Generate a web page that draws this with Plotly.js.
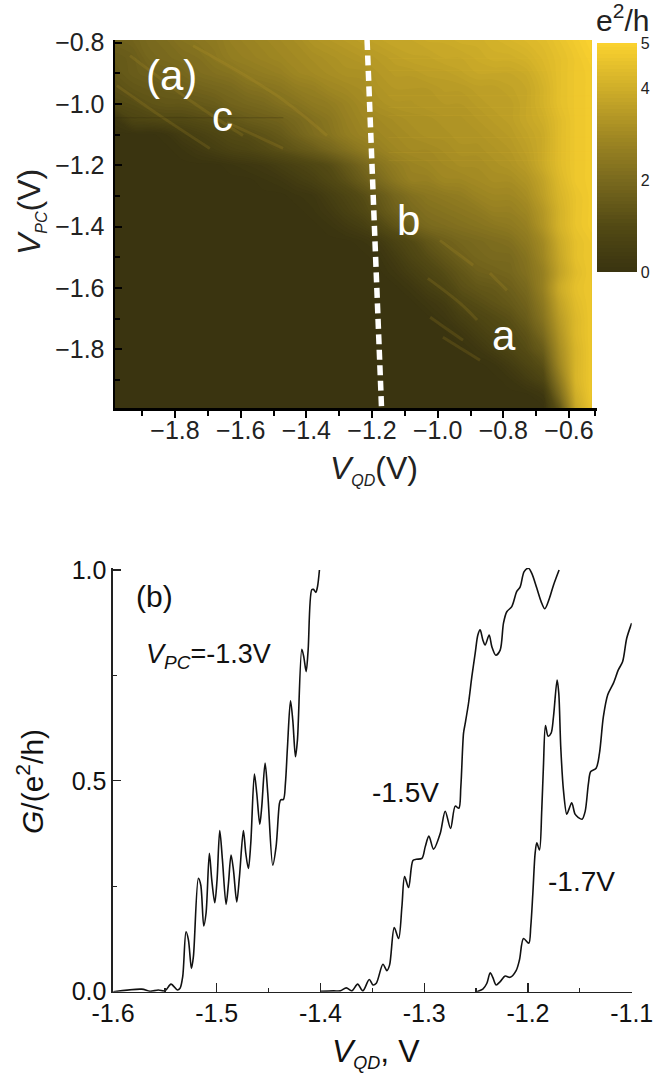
<!DOCTYPE html>
<html><head><meta charset="utf-8">
<script src="https://cdn.plot.ly/plotly-3.0.1.min.js"></script>
<style>html,body{margin:0;padding:0;background:#fff}#chart{width:668px;height:1077px}</style>
</head><body><div id="chart"></div>
<script>
// ---------- panel (a) map: conductance in e^2/h ----------
const vqdGrid = [-1.983,-1.93,-1.88,-1.83,-1.78,-1.73,-1.68,-1.63,-1.58,-1.53,-1.48,-1.43,-1.38,-1.33,-1.28,-1.23,-1.18,-1.13,-1.08,-1.03,-0.98,-0.93,-0.88,-0.83,-0.78,-0.73,-0.68,-0.63,-0.58,-0.531];
const vpcGrid = [-0.7912,-0.85,-0.90,-0.95,-1.00,-1.05,-1.10,-1.15,-1.20,-1.25,-1.30,-1.35,-1.40,-1.45,-1.50,-1.55,-1.60,-1.65,-1.70,-1.75,-1.80,-1.85,-1.90,-1.95,-1.992];
const row080 = [1.7,1.8,2.0,2.1,2.3,2.4,2.5,2.7,2.8,2.9,3.0,3.1,3.3,3.4,3.5,3.6,3.7,3.8,3.8,3.9,3.9,4.0,4.0,4.1,4.2,4.3,4.4,4.6,4.8,5.0];
const row085 = [1.5,1.6,1.9,2.0,2.1,2.2,2.4,2.6,2.7,2.8,2.9,3.0,3.1,3.2,3.3,3.4,3.5,3.6,3.7,3.7,3.8,3.8,3.9,4.0,4.0,4.1,4.3,4.5,4.7,4.9];
const row090 = [1.4,1.6,1.7,1.8,1.9,2.1,2.2,2.3,2.5,2.6,2.7,2.9,3.0,3.1,3.2,3.2,3.4,3.5,3.5,3.6,3.6,3.7,3.8,3.8,3.8,3.9,4.2,4.5,4.7,4.8];
const row095 = [1.2,1.4,1.5,1.6,1.7,1.8,1.9,2.0,2.2,2.3,2.4,2.6,2.7,2.9,3.0,3.1,3.3,3.4,3.4,3.4,3.5,3.5,3.6,3.6,3.7,3.8,4.1,4.5,4.7,4.8];
const row100 = [1.0,1.1,1.3,1.4,1.4,1.5,1.6,1.8,1.9,2.0,2.2,2.3,2.5,2.6,2.8,3.0,3.2,3.3,3.3,3.4,3.4,3.4,3.5,3.6,3.6,3.8,4.1,4.5,4.7,4.8];
const row105 = [0.2,0.8,0.9,1.0,1.0,1.1,1.2,1.4,1.6,1.7,1.8,2.0,2.2,2.4,2.7,2.9,3.0,3.1,3.2,3.2,3.3,3.3,3.4,3.5,3.6,3.8,4.0,4.4,4.7,4.8];
const row110 = [0,0,0,0.1,0.4,0.6,0.8,1.0,1.1,1.3,1.5,1.8,2.1,2.3,2.6,2.8,2.9,3.0,3.1,3.2,3.2,3.3,3.3,3.4,3.5,3.7,3.9,4.4,4.7,4.8];
const row115 = [0,0,0,0,0.1,0.3,0.5,0.7,0.8,1.0,1.2,1.4,1.6,1.9,2.2,2.5,2.7,2.9,3.0,3.0,3.1,3.2,3.2,3.3,3.4,3.6,3.9,4.4,4.7,4.8];
const row120 = [0,0,0,0,0,0,0,0.1,0.2,0.3,0.5,0.7,0.9,1.1,1.5,1.9,2.3,2.6,2.8,2.9,3.0,3.1,3.1,3.2,3.3,3.5,3.9,4.4,4.7,4.8];
const row125 = [0,0,0,0,0,0,0,0,0,0.1,0.2,0.4,0.6,0.9,1.2,1.6,2.0,2.4,2.7,2.7,2.9,2.9,3.0,3.1,3.1,3.3,3.7,4.3,4.7,4.8];
const row130 = [0,0,0,0,0,0,0,0,0,0,0,0.1,0.2,0.5,0.8,1.1,1.5,1.9,2.2,2.4,2.5,2.6,2.8,2.9,2.9,3.1,3.6,4.2,4.6,4.8];
const row135 = [0,0,0,0,0,0,0,0,0,0,0,0,0.1,0.3,0.6,0.9,1.3,1.7,2.0,2.2,2.3,2.4,2.5,2.7,2.7,2.9,3.4,4.1,4.6,4.8];
const row140 = [0,0,0,0,0,0,0,0,0,0,0,0,0,0.1,0.3,0.5,0.9,1.3,1.7,2.0,2.1,2.2,2.3,2.4,2.5,2.7,3.3,4.1,4.6,4.8];
const row145 = [0,0,0,0,0,0,0,0,0,0,0,0,0,0,0,0.1,0.3,0.7,1.0,1.4,1.7,1.9,2.0,2.1,2.2,2.5,3.0,3.9,4.5,4.7];
const row150 = [0,0,0,0,0,0,0,0,0,0,0,0,0,0,0,0,0.1,0.4,0.8,1.1,1.4,1.7,1.9,2.0,2.0,2.3,2.9,3.8,4.5,4.7];
const row155 = [0,0,0,0,0,0,0,0,0,0,0,0,0,0,0,0,0,0.2,0.5,0.8,1.1,1.4,1.7,1.8,1.9,2.2,2.7,3.7,4.4,4.7];
const row160 = [0,0,0,0,0,0,0,0,0,0,0,0,0,0,0,0,0,0,0.2,0.5,0.8,1.2,1.4,1.5,1.7,2.0,2.7,3.9,4.5,4.7];
const row165 = [0,0,0,0,0,0,0,0,0,0,0,0,0,0,0,0,0,0,0,0.2,0.4,0.9,1.1,1.3,1.5,1.8,2.5,3.7,4.4,4.7];
const row170 = [0,0,0,0,0,0,0,0,0,0,0,0,0,0,0,0,0,0,0,0,0.2,0.5,0.8,1.0,1.2,1.6,2.3,3.5,4.3,4.7];
const row175 = [0,0,0,0,0,0,0,0,0,0,0,0,0,0,0,0,0,0,0,0,0,0.2,0.5,0.8,1.0,1.3,2.0,3.3,4.3,4.7];
const row180 = [0,0,0,0,0,0,0,0,0,0,0,0,0,0,0,0,0,0,0,0,0,0,0.2,0.5,0.8,1.1,1.6,3.1,4.2,4.7];
const row185 = [0,0,0,0,0,0,0,0,0,0,0,0,0,0,0,0,0,0,0,0,0,0,0,0.1,0.4,0.8,1.2,2.9,4.2,4.7];
const row190 = [0,0,0,0,0,0,0,0,0,0,0,0,0,0,0,0,0,0,0,0,0,0,0,0,0.1,0.4,0.8,2.5,4.2,4.7];
const row195 = [0,0,0,0,0,0,0,0,0,0,0,0,0,0,0,0,0,0,0,0,0,0,0,0,0,0,0.2,2.0,4.0,4.7];
const row199 = [0,0,0,0,0,0,0,0,0,0,0,0,0,0,0,0,0,0,0,0,0,0,0,0,0,0,0,1.4,3.8,4.6];
const mapRows = [row080,row085,row090,row095,row100,row105,row110,row115,row120,row125,row130,row135,row140,row145,row150,row155,row160,row165,row170,row175,row180,row185,row190,row195,row199];
const dashVqd = [-1.215,-1.171];
const dashVpc = [-0.7912,-1.992];
// conductance ridges visible on the map
const ridgeA = {x:[-0.984,-0.871], y:[-1.761,-1.836]};
const ridgeB = {x:[-1.03,-0.932,-0.88], y:[-1.569,-1.65,-1.705]};
const ridgeC = {x:[-0.993,-0.892], y:[-1.445,-1.526]};
const ridgeD = {x:[-1.023,-0.923], y:[-1.696,-1.771]};
const ridgeE = {x:[-0.841,-0.789], y:[-1.552,-1.608]};
const ridgeF = {x:[-1.977,-1.846,-1.694], y:[-0.94,-1.038,-1.145]};
const ridgeG = {x:[-1.937,-1.745,-1.593], y:[-0.842,-0.995,-1.103]};
const ridgeH = {x:[-1.642,-1.471], y:[-1.06,-1.145]};
const ridgeI = {x:[-1.745,-1.489,-1.337], y:[-0.81,-0.973,-1.103]};
const ridges = [ridgeA,ridgeB,ridgeC,ridgeD,ridgeE,ridgeF,ridgeG,ridgeH,ridgeI];
const darkLineVqd = [-1.98,-1.47];
const darkLineVpc = [-1.045,-1.045];
const streakVqd = [-1.15,-0.531,null,-1.15,-0.531,null,-1.15,-0.531,null,-1.15,-0.531,null,-1.15,-0.531,null,-1.15,-0.531,null,-1.15,-0.531,null,-1.15,-0.531];
const streakVpc = [-0.852,-0.852,null,-0.891,-0.891,null,-0.973,-0.973,null,-1.012,-1.012,null,-1.038,-1.038,null,-1.109,-1.109,null,-1.158,-1.158,null,-1.184,-1.184];

// ---------- panel (b) traces ----------
const vqd13 = [-1.5997,-1.5723,-1.5643,-1.5563,-1.5498,-1.5441,-1.5379,-1.5354,-1.5328,-1.5296,-1.5273,-1.5244,-1.5225,-1.5177,-1.5154,-1.5125,-1.5103,-1.5071,-1.5048,-1.5019,-1.4997,-1.4971,-1.4945,-1.4910,-1.4887,-1.4862,-1.4839,-1.4807,-1.4781,-1.4743,-1.4720,-1.4695,-1.4672,-1.4637,-1.4614,-1.4585,-1.4566,-1.4534,-1.4508,-1.4460,-1.4428,-1.4395,-1.4383,-1.4357,-1.4338,-1.4318,-1.4289,-1.4267,-1.4241,-1.4222,-1.4180,-1.4161,-1.4138,-1.4119,-1.4084,-1.4068,-1.4045,-1.4029,-1.4010];
const g13 = [0,0.006,0.001,0.004,0.002,0.018,0.004,0.008,0.036,0.142,0.123,0.055,0.083,0.269,0.253,0.156,0.186,0.328,0.265,0.211,0.265,0.382,0.312,0.207,0.257,0.324,0.289,0.213,0.273,0.382,0.328,0.292,0.352,0.516,0.470,0.397,0.439,0.542,0.470,0.300,0.344,0.447,0.455,0.456,0.494,0.581,0.690,0.644,0.557,0.597,0.812,0.794,0.759,0.810,0.953,0.954,0.947,0.960,1.0];
const vqd15 = [-1.4001,-1.3873,-1.3809,-1.3751,-1.3697,-1.3642,-1.3591,-1.3530,-1.3494,-1.3462,-1.3398,-1.3360,-1.3334,-1.3289,-1.3247,-1.3215,-1.3189,-1.3151,-1.3109,-1.3077,-1.3022,-1.2990,-1.2955,-1.2910,-1.2846,-1.2798,-1.2746,-1.2701,-1.2666,-1.2647,-1.2621,-1.2605,-1.2573,-1.2541,-1.2509,-1.2483,-1.2461,-1.2435,-1.2413,-1.2374,-1.2348,-1.2310,-1.2268,-1.2236,-1.2204,-1.2156,-1.2108,-1.2075,-1.2037,-1.1995,-1.1963,-1.1915,-1.1873,-1.1838,-1.1793,-1.1754,-1.1700];
const g15 = [0.001,0.002,0.002,0.009,0.002,0.018,0.002,0.029,0.016,0.020,0.065,0.050,0.063,0.152,0.126,0.202,0.273,0.247,0.311,0.314,0.316,0.344,0.369,0.338,0.375,0.428,0.387,0.440,0.435,0.486,0.613,0.636,0.684,0.747,0.802,0.846,0.858,0.834,0.822,0.846,0.818,0.798,0.810,0.874,0.901,0.913,0.949,0.960,0.996,1.004,0.992,0.957,0.925,0.908,0.933,0.964,1.0];
const vqd17 = [-1.2493,-1.2435,-1.2396,-1.2364,-1.2339,-1.2307,-1.2268,-1.2220,-1.2172,-1.2114,-1.2082,-1.2043,-1.1992,-1.1973,-1.1953,-1.1931,-1.1915,-1.1889,-1.1867,-1.1851,-1.1831,-1.1806,-1.1777,-1.1754,-1.1719,-1.1703,-1.1684,-1.1658,-1.1626,-1.1607,-1.1578,-1.1546,-1.1514,-1.1478,-1.1449,-1.1417,-1.1395,-1.1343,-1.1311,-1.1273,-1.1231,-1.1177,-1.1129,-1.1087,-1.1048,-1.1000];
const g17 = [0,0.006,0.020,0.045,0.034,0.016,0.024,0.037,0.034,0.050,0.075,0.126,0.115,0.154,0.233,0.328,0.353,0.336,0.431,0.534,0.631,0.606,0.613,0.652,0.739,0.708,0.581,0.478,0.421,0.431,0.448,0.421,0.413,0.409,0.427,0.494,0.522,0.530,0.565,0.652,0.704,0.731,0.763,0.783,0.838,0.874];

const aTicks = [-1.8,-1.6,-1.4,-1.2,-1.0,-0.8,-0.6];
const aTickText = ['\u22121.8','\u22121.6','\u22121.4','\u22121.2','\u22121.0','\u22120.8','\u22120.6'];
const aYTicks = [-0.8,-1.0,-1.2,-1.4,-1.6,-1.8];
const aYTickText = ['\u22120.8','\u22121.0','\u22121.2','\u22121.4','\u22121.6','\u22121.8'];
const aMinorX = [-1.9,-1.7,-1.5,-1.3,-1.1,-0.9,-0.7,-0.52];
const aMinorY = [-0.9,-1.1,-1.3,-1.5,-1.7,-1.9];
const bXTicks = [-1.6,-1.5,-1.4,-1.3,-1.2,-1.1];
const bXText = ['-1.6','-1.5','-1.4','-1.3','-1.2','-1.1'];
const bMinorX = [-1.55,-1.45,-1.35,-1.25,-1.15];
const bYTicks = [0,0.5,1];
const bYText = ['0.0','0.5','1.0'];
const bMinorY = [0.25,0.75];
const barTicks = [0,2,4,5];

const W = 668, H = 1077, FONT = '"Liberation Sans", Arial, sans-serif';
const px = v => v / W, py = v => 1 - v / H;
const mapScale = [[0,'#3a3410'],[0.2,'#534a14'],[0.4,'#7a6a1e'],[0.6,'#a38a23'],[0.8,'#cfae29'],[1,'#fbd22f']];

const curve = (name,x,y) => ({type:'scatter', mode:'lines', name, x, y, xaxis:'x2', yaxis:'y2', cliponaxis:false, line:{color:'#111',width:1.6,shape:'spline',smoothing:0.85}});
const traces = [
  {type:'contour', x:vqdGrid, y:vpcGrid, z:mapRows, zmin:0, zmax:5, colorscale:mapScale, xaxis:'x', yaxis:'y',
   contours:{coloring:'fill', showlines:false, start:0.04, end:5, size:0.08}, line:{width:0},
   colorbar:{x:px(597), xanchor:'left', xpad:0, y:py(272), yanchor:'bottom', ypad:0, len:229/H, lenmode:'fraction',
     thickness:40, thicknessmode:'pixels', outlinewidth:0, borderwidth:0, ticks:'', tickmode:'array', tickvals:barTicks, ticktext:barTicks.map(String),
     tickfont:{family:FONT,size:16,color:'#222'}, ticklabelposition:'outside'}},
  ...ridges.map(r => ({type:'scatter', mode:'lines', x:r.x, y:r.y, xaxis:'x', yaxis:'y', line:{color:'rgba(205,170,50,0.15)',width:3,shape:'spline'}, hoverinfo:'skip'})),
  {type:'scatter', mode:'lines', x:streakVqd, y:streakVpc, xaxis:'x', yaxis:'y', line:{color:'rgba(245,205,55,0.09)',width:1}, hoverinfo:'skip'},
  {type:'scatter', mode:'lines', x:darkLineVqd, y:darkLineVpc, xaxis:'x', yaxis:'y', line:{color:'rgba(45,40,12,0.3)',width:1}, hoverinfo:'skip'},
  {type:'scatter', mode:'lines', x:dashVqd, y:dashVpc, xaxis:'x', yaxis:'y', line:{color:'#fff',width:5.5,dash:'10px,5.5px'}, hoverinfo:'skip'},
  curve('-1.3V',vqd13,g13), curve('-1.5V',vqd15,g15), curve('-1.7V',vqd17,g17)
];

const note = (text,x,y,size,color,extra) => Object.assign({text, xref:'paper', yref:'paper', x:px(x), y:py(y), xanchor:'center', yanchor:'middle', showarrow:false, font:{family:FONT,size,color}}, extra||{});
const sub = (t,s) => `<sub><i><span style="font-size:${s}px">${t}</span></i></sub>`;

const layout = {
  width:W, height:H, showlegend:false, paper_bgcolor:'#fff', plot_bgcolor:'#fff',
  margin:{l:0,r:0,t:0,b:0,pad:0}, font:{family:FONT,color:'#222'},
  xaxis:{domain:[px(115),px(597)], range:[-1.9828,-0.5147], anchor:'y', showgrid:false, zeroline:false, showline:true, linecolor:'#000', linewidth:2.5,
    ticks:'outside', ticklen:7.5, tickwidth:2, tickcolor:'#000', tickmode:'array', tickvals:aTicks, ticktext:aTickText, tickfont:{family:FONT,size:25,color:'#222'}, ticklabelstandoff:-9,
    minor:{ticks:'outside', ticklen:5, tickwidth:2, tickcolor:'#000', tickmode:'array', tickvals:aMinorX, showgrid:false}},
  yaxis:{domain:[py(408),py(40)], range:[-1.992,-0.7912], anchor:'x', showgrid:false, zeroline:false, showline:true, linecolor:'#000', linewidth:2.5,
    ticks:'inside', ticklen:7, tickwidth:2, tickcolor:'#000', tickmode:'array', tickvals:aYTicks, ticktext:aYTickText, tickfont:{family:FONT,size:25,color:'#222'}, ticklabelstandoff:3,
    minor:{ticks:'inside', ticklen:5, tickwidth:2, tickcolor:'#000', tickmode:'array', tickvals:aMinorY, showgrid:false}},
  xaxis2:{domain:[px(113),px(631.7)], range:[-1.6,-1.1], anchor:'y2', showgrid:false, zeroline:false, showline:true, linecolor:'#222', linewidth:1.6,
    ticks:'inside', ticklen:9, tickwidth:1.3, tickcolor:'#222', tickmode:'array', tickvals:bXTicks, ticktext:bXText, tickfont:{family:FONT,size:25,color:'#111'}, ticklabelstandoff:-1,
    minor:{ticks:'inside', ticklen:4, tickwidth:1.3, tickcolor:'#222', tickmode:'array', tickvals:bMinorX, showgrid:false}},
  yaxis2:{domain:[py(991.7),py(568)], range:[0,1.0047], anchor:'x2', showgrid:false, zeroline:false, showline:true, linecolor:'#222', linewidth:1.6,
    ticks:'inside', ticklen:8, tickwidth:1.3, tickcolor:'#222', tickmode:'array', tickvals:bYTicks, ticktext:bYText, tickfont:{family:FONT,size:25,color:'#111'},
    minor:{ticks:'inside', ticklen:4, tickwidth:1.3, tickcolor:'#222', tickmode:'array', tickvals:bMinorY, showgrid:false}},
  annotations:[
    note('(a)',171,75,42,'#fff'),
    note('c',222,116,42,'#fff'),
    note('b',408,221,42,'#fff'),
    note('a',504,335,42,'#fff'),
    note('e<sup>2</sup>/h',622,18,30,'#222'),
    note('<i>V</i>'+sub('QD',16)+'(V)',374,470,32,'#222'),
    note('<i>V</i>'+sub('PC',16)+'(V)',30,212,32,'#222',{textangle:-90}),
    note('(b)',154,596,30,'#111'),
    note('<i>V</i>'+sub('PC',19)+'=-1.3V',208,656,27,'#111'),
    note('-1.5V',405,792,28,'#111'),
    note('-1.7V',581,881,28,'#111'),
    note('<i>V</i>'+sub('QD',18)+', V',376,1053,32,'#111'),
    note('<i>G</i>/(e<sup>2</sup>/h)',30,782,30,'#111',{textangle:-90})
  ]
};
Plotly.newPlot('chart',traces,layout,{displayModeBar:false,staticPlot:true});
</script></body></html>
